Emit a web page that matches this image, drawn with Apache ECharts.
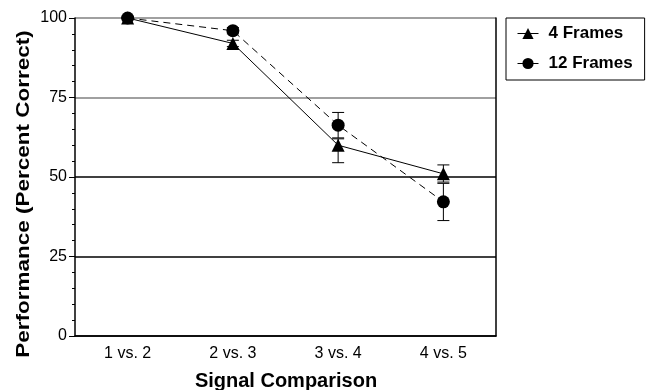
<!DOCTYPE html>
<html>
<head>
<meta charset="utf-8">
<script src="https://cdn.jsdelivr.net/npm/echarts@6/dist/echarts.min.js"></script>
<style>html,body{margin:0;padding:0;background:#fff}#c{width:651px;height:390px}</style>
</head>
<body>
<div id="c"></div>
<script>
var categories = ['1 vs. 2', '2 vs. 3', '3 vs. 4', '4 vs. 5'];
var frames4 = [100, 92, 60, 51];
var frames12 = [100, 96, 66.3, 42.2];
var frames4Low = [100, 91, 54.5, 48.4];
var frames4High = [100, 93, 62, 53.8];
var frames12Low = [100, 95, 62.3, 36.3];
var frames12High = [100, 97, 70.3, 48];
var yTicks = [0, 25, 50, 75, 100];

var FONT = 'Liberation Sans, Arial, sans-serif';

function errData(lo, hi) {
  return categories.map(function (c, i) { return [i, lo[i], hi[i]]; });
}
function errRender(params, api) {
  var x = api.value(0);
  var p1 = api.coord([x, api.value(1)]);
  var p2 = api.coord([x, api.value(2)]);
  var hw = 6;
  var st = { stroke: '#000', lineWidth: 1 };
  return {
    type: 'group',
    children: [
      { type: 'line', shape: { x1: p1[0], y1: p1[1], x2: p2[0], y2: p2[1] }, style: st },
      { type: 'line', shape: { x1: p1[0] - hw, y1: p1[1], x2: p1[0] + hw, y2: p1[1] }, style: st },
      { type: 'line', shape: { x1: p2[0] - hw, y1: p2[1], x2: p2[0] + hw, y2: p2[1] }, style: st }
    ]
  };
}

var chart = echarts.init(document.getElementById('c'), null, { renderer: 'canvas' });
chart.setOption({
  animation: false,
  backgroundColor: '#fff',
  textStyle: { fontFamily: FONT },
  grid: { left: 75, right: 155, top: 18, bottom: 54 },
  legend: {
    orient: 'vertical',
    left: 506,
    top: 18,
    padding: [7, 12, 8, 11],
    borderColor: '#000',
    borderWidth: 1,
    itemWidth: 21,
    itemHeight: 14,
    itemGap: 13,
    lineStyle: { type: 'solid', width: 1, color: '#000' },
    textStyle: { fontFamily: FONT, fontWeight: 'bold', fontSize: 17, color: '#000', padding: [0, 0, 0, 5] },
    data: ['4 Frames', '12 Frames']
  },
  xAxis: {
    type: 'category',
    data: categories,
    boundaryGap: true,
    axisLine: { lineStyle: { color: '#000', width: 1.5 } },
    axisTick: { alignWithLabel: true, length: 6, lineStyle: { color: '#000' } },
    axisLabel: { color: '#000', fontSize: 16, margin: 10, fontFamily: FONT },
    splitLine: { show: false }
  },
  yAxis: [{
    type: 'value',
    min: 0,
    max: 100,
    interval: 25,
    axisLine: { show: true, lineStyle: { color: '#000', width: 1.5 } },
    axisTick: { show: true, length: 6, lineStyle: { color: '#000' } },
    minorTick: { show: true, splitNumber: 5, length: 3, lineStyle: { color: '#000' } },
    axisLabel: { color: '#000', fontSize: 16, margin: 8, fontFamily: FONT,
      formatter: function (v) { return yTicks.indexOf(v) >= 0 ? String(v) : ''; } },
    splitLine: { show: true, lineStyle: { color: ['#000', '#000', '#000', '#808080', '#808080'], width: 1.5 } }
  }, {
    type: 'value',
    position: 'right',
    min: 0, max: 100, interval: 25,
    axisLine: { show: true, lineStyle: { color: '#000', width: 1.5 } },
    axisTick: { show: false },
    axisLabel: { show: false },
    splitLine: { show: false }
  }],
  graphic: [
    { type: 'text', x: 24, y: 194, rotation: Math.PI / 2, scaleX: 1.25, scaleY: 1,
      style: { text: 'Performance (Percent Correct)', x: 0, y: 0, align: 'center', verticalAlign: 'middle', fontFamily: FONT, fontWeight: 'bold', fontSize: 18, fill: '#000' } },
    { type: 'text', style: { text: 'Signal Comparison', x: 286, y: 381, align: 'center', verticalAlign: 'middle', fontFamily: FONT, fontWeight: 'bold', fontSize: 20, fill: '#000' } }
  ],
  series: [
    { type: 'custom', name: 'err4', renderItem: errRender, data: errData(frames4Low, frames4High), z: 2, silent: true },
    { type: 'custom', name: 'err12', renderItem: errRender, data: errData(frames12Low, frames12High), z: 2, silent: true },
    {
      name: '4 Frames', type: 'line', data: frames4, symbol: 'triangle', symbolSize: 13,
      lineStyle: { color: '#000', width: 1, type: 'solid' },
      itemStyle: { color: '#000' }, z: 3
    },
    {
      name: '12 Frames', type: 'line', data: frames12, symbol: 'circle', symbolSize: 13,
      lineStyle: { color: '#000', width: 1, type: [7, 5] },
      itemStyle: { color: '#000' }, z: 3
    }
  ]
});
</script>
</body>
</html>
